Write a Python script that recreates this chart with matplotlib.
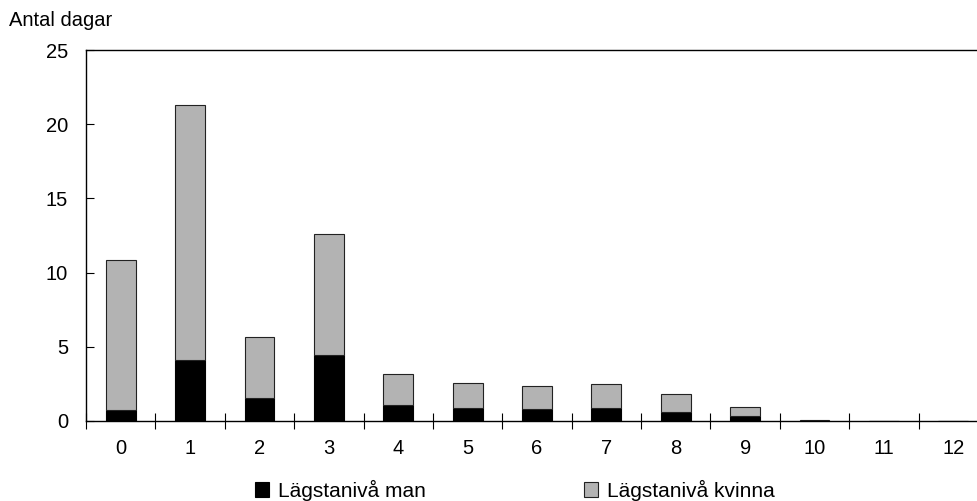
import numpy as np
import matplotlib
matplotlib.use("Agg")
import matplotlib.pyplot as plt
from matplotlib.patches import Patch

# Data
categories = ['0', '1', '2', '3', '4', '5', '6', '7', '8', '9', '10', '11', '12']
man = [0.72, 4.1, 1.58, 4.44, 1.06, 0.9, 0.81, 0.9, 0.63, 0.32, 0.02, 0.0, 0.0]
total = [10.88, 21.3, 5.66, 12.6, 3.15, 2.59, 2.36, 2.48, 1.8, 0.97, 0.05, 0.0, 0.0]
kvinna = [t - m for t, m in zip(total, man)]

y_ticks = [0, 5, 10, 15, 20, 25]

plt.rcParams['font.family'] = ['Liberation Sans', 'DejaVu Sans']
plt.rcParams['font.size'] = 14.5

fig = plt.figure(figsize=(9.77, 5.01), dpi=100)
ax = fig.add_axes([86 / 977, 80 / 501, 902 / 977, 371 / 501])

x = np.arange(len(categories))
ax.bar(x, man, width=0.43, color='black', edgecolor='black', linewidth=0.8,
       label='Lägstanivå man')
ax.bar(x, kvinna, bottom=man, width=0.43, color='#b3b3b3', edgecolor='#222222',
       linewidth=0.8, label='Lägstanivå kvinna')

ax.set_xlim(-0.5, len(categories) - 0.5)
ax.set_ylim(0, 25)
ax.set_yticks(y_ticks)
ax.tick_params(axis='y', direction='in', length=6, width=0.8, pad=13)

# ticks at category boundaries, labels at centers
ax.set_xticks(np.arange(-0.5, len(categories), 1.0))
ax.set_xticklabels([])
ax.tick_params(axis='x', which='major', direction='inout', length=12, width=0.8)
ax.set_xticks(x, minor=True)
ax.set_xticklabels(categories, minor=True)
ax.tick_params(axis='x', which='minor', length=0, pad=13)

for s in ['left', 'bottom', 'top']:
    ax.spines[s].set_linewidth(1.0)
ax.spines['right'].set_visible(False)

fig.text(9 / 977, 1 - 21 / 501, 'Antal dagar', va='center', ha='left', fontsize=14.5)

handles = [Patch(facecolor='black', edgecolor='black', linewidth=0.8),
           Patch(facecolor='#b3b3b3', edgecolor='#222222', linewidth=0.8)]
fig.legend(handles, ['Lägstanivå man', 'Lägstanivå kvinna'], ncol=2,
           loc='center left', bbox_to_anchor=(236 / 977, 1 - 490 / 501),
           frameon=False, handlelength=0.7, handleheight=0.7,
           handletextpad=0.4, columnspacing=7.6, fontsize=15)

fig.savefig('out.png', dpi=100)
